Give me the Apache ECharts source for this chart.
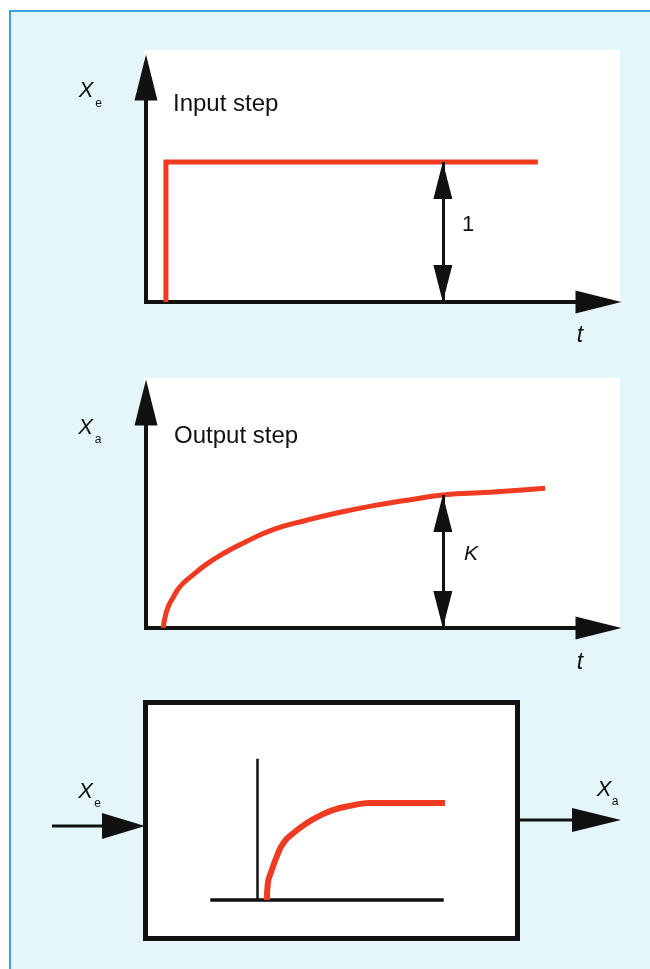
<!DOCTYPE html>
<html>
<head>
<meta charset="utf-8">
<title>Step response</title>
<script src="https://cdn.jsdelivr.net/npm/echarts@6/dist/echarts.min.js"></script>
<style>
  html, body { margin: 0; padding: 0; background: #fff; }
  #chart { width: 650px; height: 969px; }
</style>
</head>
<body>
<div id="chart"></div>
<script>
// input step (t, Xe)
const inputT = [0.44, 0.44, 8.66];
const inputX = [0, 1, 1];

// output step (t, Xa)
const outputT = [0.38, 0.42, 0.49, 0.6, 0.75, 0.97, 1.34, 1.71, 2.22, 2.81, 3.55, 4.29, 5.03, 5.77, 6.56, 7.6, 8.82];
const outputX = [0, 0.08, 0.16, 0.23, 0.31, 0.38, 0.48, 0.56, 0.65, 0.74, 0.81, 0.87, 0.92, 0.96, 1.0, 1.02, 1.05];

// little sketch inside the block
const blockT = [0.22, 0.24, 0.33, 0.44, 0.59, 0.81, 1.1, 1.4, 1.7, 2.07, 2.51, 3.4, 4.22];
const blockX = [0, 0.17, 0.31, 0.45, 0.59, 0.69, 0.79, 0.87, 0.93, 0.97, 1, 1, 1];

// the "1" and "K" arrows
const gainT = 6.56;
const inputGain = 1;
const outputGain = 1;

const red = '#f03a22';
const ink = '#111';
const fontName = '"Liberation Sans", Arial, sans-serif';

function pairs(xs, ys) {
  return xs.map((x, i) => [x, ys[i]]);
}

function axis(gridIndex, min, max, arrow, width) {
  return {
    type: 'value',
    gridIndex: gridIndex,
    min: min,
    max: max,
    axisLine: {
      show: true,
      onZero: !arrow,
      symbol: arrow ? ['none', 'triangle'] : 'none',
      symbolSize: [23, 46],
      lineStyle: { color: ink, width: width, cap: 'square' }
    },
    axisTick: { show: false },
    axisLabel: { show: false },
    splitLine: { show: false }
  };
}

function gainArrow(level) {
  return {
    silent: true,
    animation: false,
    symbol: ['triangle', 'triangle'],
    symbolSize: [19, 37],
    symbolOffset: [[0, 18.5], [0, 18.5]],
    lineStyle: { color: ink, width: 3, type: 'solid' },
    label: { show: false },
    emphasis: { disabled: true },
    data: [[{ coord: [gainT, 0] }, { coord: [gainT, level] }]]
  };
}

function text(x, y, str, size, italic, align) {
  return {
    type: 'text',
    x: x,
    y: y,
    z: 5,
    style: {
      text: str,
      fill: ink,
      font: (italic ? 'italic ' : '') + size + 'px ' + fontName,
      align: align || 'center',
      verticalAlign: 'middle'
    }
  };
}

var myChart = echarts.init(document.getElementById('chart'));

var option = {
  backgroundColor: '#fff',
  animation: false,
  grid: [
    { left: 146, top: 77.5, right: 51.5, bottom: 667 },
    { left: 146, top: 402.5, right: 51.5, bottom: 341 },
    { left: 212, top: 760, width: 230, height: 140 }
  ],
  xAxis: [
    axis(0, 0, 10, true, 4),
    axis(1, 0, 10, true, 4),
    axis(2, -1, 4.11, false, 3.5)
  ],
  yAxis: [
    axis(0, 0, 1.604, true, 4),
    axis(1, 0, 1.695, true, 4),
    axis(2, 0, 1.443, false, 2.5)
  ],
  series: [
    {
      name: 'Input step',
      type: 'line',
      xAxisIndex: 0,
      yAxisIndex: 0,
      symbol: 'none',
      lineStyle: { color: red, width: 5, join: 'miter' },
      data: pairs(inputT, inputX),
      markLine: gainArrow(inputGain)
    },
    {
      name: 'Output step',
      type: 'line',
      xAxisIndex: 1,
      yAxisIndex: 1,
      symbol: 'none',
      smooth: 0.5,
      lineStyle: { color: red, width: 5 },
      data: pairs(outputT, outputX),
      markLine: gainArrow(outputGain)
    },
    {
      name: 'Block',
      type: 'line',
      xAxisIndex: 2,
      yAxisIndex: 2,
      symbol: 'none',
      smooth: 0.5,
      clip: false,
      lineStyle: { color: red, width: 6 },
      data: pairs(blockT, blockX)
    }
  ],
  graphic: {
    elements: [
      // frame
      {
        type: 'rect', z: -20, silent: true,
        shape: { x: 10, y: 11, width: 700, height: 1000 },
        style: { fill: '#e5f6fa', stroke: '#3aa2dc', lineWidth: 2 }
      },
      // white panels
      {
        type: 'rect', z: -10, silent: true,
        shape: { x: 144, y: 50, width: 476, height: 254 },
        style: { fill: '#fff' }
      },
      {
        type: 'rect', z: -10, silent: true,
        shape: { x: 144, y: 378, width: 476, height: 252 },
        style: { fill: '#fff' }
      },
      // block
      {
        type: 'rect', z: -5, silent: true,
        shape: { x: 145.5, y: 702.5, width: 372, height: 236 },
        style: { fill: '#fff', stroke: ink, lineWidth: 5 }
      },
      {
        type: 'line', z: 1, silent: true,
        shape: { x1: 52, y1: 826, x2: 110, y2: 826 },
        style: { stroke: ink, lineWidth: 3 }
      },
      {
        type: 'polygon', z: 1, silent: true,
        shape: { points: [[102, 813], [145, 826], [102, 839]] },
        style: { fill: ink }
      },
      {
        type: 'line', z: 1, silent: true,
        shape: { x1: 520, y1: 820, x2: 580, y2: 820 },
        style: { stroke: ink, lineWidth: 3 }
      },
      {
        type: 'polygon', z: 1, silent: true,
        shape: { points: [[572, 808], [621, 820], [572, 832]] },
        style: { fill: ink }
      },
      // texts
      text(173, 104, 'Input step', 24, false, 'left'),
      text(174, 436, 'Output step', 24, false, 'left'),
      text(86, 90.5, 'X', 22, true),
      text(98.5, 103.5, 'e', 12, false),
      text(85.5, 428, 'X', 22, true),
      text(98, 440, 'a', 12, false),
      text(468, 225, '1', 22, false),
      text(471, 554, 'K', 21, true),
      text(580, 336, 't', 23, true),
      text(580, 663, 't', 23, true),
      text(85.5, 792, 'X', 22, true),
      text(97.5, 804, 'e', 12, false),
      text(604, 790, 'X', 22, true),
      text(615, 802, 'a', 12, false)
    ]
  }
};

option && myChart.setOption(option);
</script>
</body>
</html>
